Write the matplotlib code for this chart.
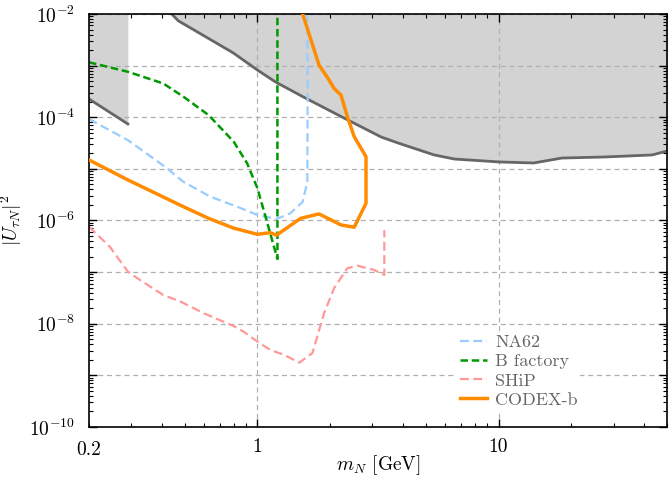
import numpy as np
import matplotlib
matplotlib.use('Agg')
import matplotlib.pyplot as plt
from matplotlib.ticker import LogLocator, FixedLocator, FixedFormatter, NullFormatter

plt.rcParams['font.family'] = 'cmr10'
plt.rcParams['mathtext.fontset'] = 'cm'
plt.rcParams['axes.unicode_minus'] = False

# Excluded region (upper boundary of the grey area)
excl_left_m = [0.2, 0.29]
excl_left_u = [2.26e-4, 7.4e-5]
excl_m = [0.441, 0.469, 0.794, 1.0, 1.19, 1.55, 2.37, 3.26, 3.83, 5.41, 6.56,
          10.1, 14.0, 18.3, 27.7, 43.4, 51.6]
excl_u = [1e-2, 7.4e-3, 1.76e-3, 8.2e-4, 4.8e-4, 2.47e-4, 8.85e-5, 4.14e-5,
          3.17e-5, 1.86e-5, 1.55e-5, 1.36e-5, 1.3e-5, 1.62e-5, 1.7e-5, 1.86e-5, 2.3e-5]

# NA62
na62_m = [0.2, 0.29, 0.42, 0.493, 0.637, 0.823, 1.0, 1.2, 1.37, 1.54, 1.61, 1.615, 1.61]
na62_u = [9.2e-5, 3.6e-5, 1.04e-5, 5.6e-6, 2.9e-6, 1.85e-6, 1.28e-6, 1.07e-6,
          1.38e-6, 2.3e-6, 5.6e-6, 2.16e-4, 1e-2]

# B factory
bfac_m = [0.2, 0.29, 0.407, 0.493, 0.627, 0.797, 0.906, 1.0, 1.08, 1.13, 1.21, 1.21]
bfac_u = [1.16e-3, 7.6e-4, 4.5e-4, 2.5e-4, 1.1e-4, 3.36e-5, 1.28e-5, 4.2e-6,
          1.19e-6, 5.6e-7, 1.8e-7, 1e-2]

# SHiP
ship_m = [0.2, 0.244, 0.29, 0.326, 0.407, 0.478, 0.598, 0.797, 0.877, 1.0, 1.13,
          1.29, 1.49, 1.69, 1.89, 2.08, 2.36, 2.6, 3.05, 3.36, 3.36]
ship_u = [7.6e-7, 3.1e-7, 1.02e-7, 7.0e-8, 3.6e-8, 2.7e-8, 1.6e-8, 9.0e-9, 7.0e-9,
          4.5e-9, 3.1e-9, 2.5e-9, 1.76e-9, 2.7e-9, 1.6e-8, 4.9e-8, 1.19e-7,
          1.33e-7, 1.1e-7, 8.8e-8, 6.5e-7]

# CODEX-b
codex_m = [0.2, 0.29, 0.493, 0.627, 0.797, 1.0, 1.13, 1.2, 1.51, 1.8, 2.22, 2.52,
           2.82, 2.82, 2.52, 2.36, 2.22, 2.08, 1.98, 1.8, 1.54]
codex_u = [1.49e-5, 6.1e-6, 1.85e-6, 1.1e-6, 7.1e-7, 5.4e-7, 5.8e-7, 5.2e-7,
           1.1e-6, 1.34e-6, 8.2e-7, 7.4e-7, 2.15e-6, 1.72e-5, 4.2e-5, 1.03e-4,
           2.7e-4, 3.6e-4, 5.3e-4, 1.03e-3, 1e-2]

fig = plt.figure(figsize=(6.69, 4.79), dpi=100)
ax = fig.add_axes([0.133, 0.1086, 0.864, 0.8622])

ytop = 1e-2
ax.fill_between(excl_left_m, excl_left_u, ytop, color='lightgrey', lw=0, zorder=0.2)
ax.plot(excl_left_m, excl_left_u, color='#666666', lw=2, zorder=1)
ax.fill_between(excl_m, excl_u, ytop, color='lightgrey', lw=0, zorder=0.2)
ax.plot(excl_m, excl_u, color='#666666', lw=2, zorder=1)

ax.plot(na62_m, na62_u, color='#99ccff', lw=1.6, ls=(0, (4, 2)), label='NA62', zorder=2)
ax.plot(bfac_m, bfac_u, color='#009900', lw=1.8, ls=(0, (3, 1.5)), label='B factory', zorder=2)
ax.plot(ship_m, ship_u, color='#ff9999', lw=1.6, ls=(0, (4, 2)), label='SHiP', zorder=2)
ax.plot(codex_m, codex_u, color='darkorange', lw=2.5, label='CODEX-b', zorder=3)

ax.set_xscale('log')
ax.set_yscale('log')
ax.set_xlim(0.2, 50)
ax.set_ylim(1e-10, 1e-2)

ax.xaxis.set_major_locator(FixedLocator([1, 10]))
ax.xaxis.set_major_formatter(FixedFormatter(['1', '10']))
ax.xaxis.set_minor_locator(LogLocator(base=10, subs=np.arange(2, 10)))
ax.xaxis.set_minor_formatter(NullFormatter())
ax.text(0.2, -0.035, '0.2', transform=ax.get_xaxis_transform(), ha='center', va='top', fontsize=14)

ydec = [10.0 ** k for k in range(-10, -1)]
ax.yaxis.set_major_locator(FixedLocator(ydec))
ax.yaxis.set_major_formatter(FixedFormatter(
    [r'$10^{%d}$' % k if k % 2 == 0 else '' for k in range(-10, -1)]))
ax.yaxis.set_minor_locator(LogLocator(base=10, subs=np.arange(2, 10), numticks=20))
ax.yaxis.set_minor_formatter(NullFormatter())

ax.tick_params(which='both', direction='in', top=True, right=True, labelsize=14)
ax.tick_params(which='major', length=6, width=1)
ax.tick_params(which='minor', length=3, width=0.8)
ax.tick_params(axis='x', which='major', pad=8)
ax.tick_params(axis='y', which='major', pad=10)
for s in ax.spines.values():
    s.set_linewidth(1.2)

ax.grid(True, which='major', color='#b0b0b0', ls=(0, (4, 3)), lw=0.9)
ax.set_axisbelow(True)

ax.set_xlabel(r'$m_N$ [GeV]', fontsize=14, labelpad=-2)
ax.set_ylabel(r'$|U_{\tau N}|^2$', fontsize=14)
ax.yaxis.set_label_coords(-0.112, 0.5)

leg = ax.legend(loc='lower right', bbox_to_anchor=(0.85, 0.04), fontsize=13,
                frameon=True, framealpha=1, edgecolor='none', facecolor='white',
                handlelength=1.5, handletextpad=0.45, labelspacing=0.2,
                borderpad=0.15, borderaxespad=0, fancybox=False)
for t in leg.get_texts():
    t.set_color('#666666')

fig.savefig('out.png', dpi=100)
